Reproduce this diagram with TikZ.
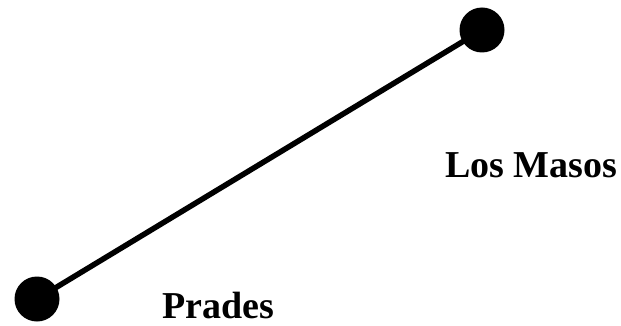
\documentclass[tikz,border=0pt]{standalone}
\usepackage{fontspec}
\setmainfont{Liberation Serif}
\begin{document}
\begin{tikzpicture}[x=1pt,y=-1pt,
  dot/.style={circle,fill=black,inner sep=0pt,minimum size=45pt},
  lbl/.style={anchor=base west,inner sep=0pt,font=\fontsize{38}{40}\selectfont\bfseries}]
\useasboundingbox (0,0) rectangle (621,326);
\node[dot] (masos) at (482,30) {};
\node[dot] (prades) at (37,299) {};
\draw[line width=5.5pt] (prades.center) -- (masos.center);
\node[lbl] (lmasos) at (445,177) {Los Masos};
\node[lbl] (lprades) at (162,318) {Prades};
\end{tikzpicture}
\end{document}
